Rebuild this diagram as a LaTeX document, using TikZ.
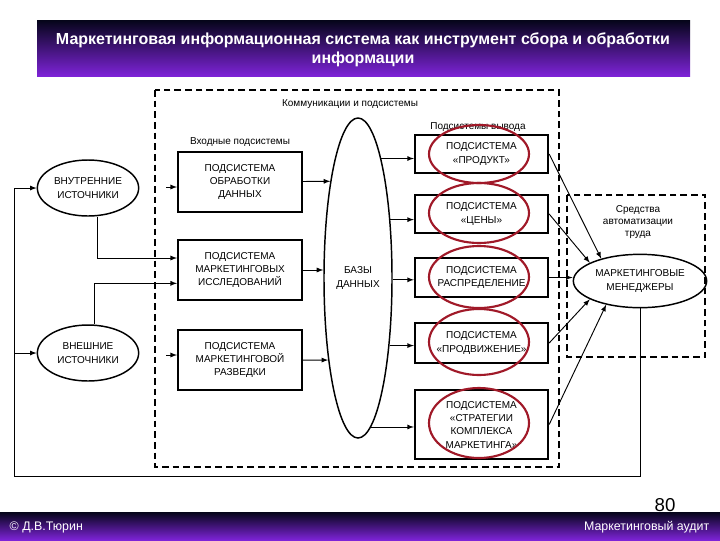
\documentclass[tikz,border=0pt]{standalone}
\usepackage{fontspec}
\setmainfont{Liberation Sans}
\usetikzlibrary{shapes.geometric}
\definecolor{ringred}{RGB}{160,25,40}
\definecolor{bartop}{RGB}{5,5,25}
\definecolor{barmid}{RGB}{25,15,210}
\definecolor{barbot}{RGB}{125,35,215}
\tikzset{
  caps/.style={font=\fontsize{7.5}{10}\selectfont,align=center},
  box/.style={caps,draw,line width=1.5pt,inner sep=0pt},
  oval/.style={caps,draw,ellipse,line width=1.1pt,inner sep=0pt},
  note/.style={font=\fontsize{7.5}{9}\selectfont,align=center},
  ring/.style={draw=ringred,line width=1.6pt},
  dashbox/.style={line width=1.4pt,dash pattern=on 5pt off 3pt},
  link/.style={->,line width=0.7pt}
}
\begin{document}
\begin{tikzpicture}[x=0.75pt,y=-0.75pt,>=latex]
\useasboundingbox (0,0) rectangle (720,540);
\shade[top color=bartop,middle color=barmid,bottom color=barbot] (37,20) rectangle (690,76);
\shade[top color=bartop,middle color=barmid,bottom color=barbot] (0,512) rectangle (720,540);
\node[font=\bfseries\fontsize{12}{14.5}\selectfont,text=white,align=center] (title) at (363,50) {Маркетинговая информационная система как инструмент сбора и обработки\\информации};
\node[font=\fontsize{9.3}{11}\selectfont,text=white,anchor=west] (copy) at (5,527) {© Д.В.Тюрин};
\node[font=\fontsize{9.3}{11}\selectfont,text=white,anchor=east] (aud) at (714,527) {Маркетинговый аудит};
\node[font=\fontsize{14}{16}\selectfont] (page) at (665,505) {80};

\draw[dashbox] (155,90) rectangle (559,467);
\draw[dashbox] (567,195) rectangle (705,357);
\node[note] (lcom) at (350,104) {Коммуникации и подсистемы};
\node[note] (lin) at (240,142) {Входные подсистемы};
\node[note] (lout) at (478,127) {Подсистемы вывода};
\node[note] (lauto) at (638,222) {Средства\\автоматизации\\труда};

\node[oval,minimum width=76pt,minimum height=42pt] (src1) at (88,188) {ВНУТРЕННИЕ\\ИСТОЧНИКИ};
\node[oval,minimum width=76pt,minimum height=42pt] (src2) at (88,353) {ВНЕШНИЕ\\ИСТОЧНИКИ};
\node[box,minimum width=93pt,minimum height=45pt] (in1) at (240,182) {ПОДСИСТЕМА\\ОБРАБОТКИ\\ДАННЫХ};
\node[box,minimum width=93pt,minimum height=45pt] (in2) at (240,270) {ПОДСИСТЕМА\\МАРКЕТИНГОВЫХ\\ИССЛЕДОВАНИЙ};
\node[box,minimum width=93pt,minimum height=45pt] (in3) at (240,360) {ПОДСИСТЕМА\\МАРКЕТИНГОВОЙ\\РАЗВЕДКИ};
\node[oval,minimum width=51pt,minimum height=240pt] (db) at (358,278) {БАЗЫ\\ДАННЫХ};
\node[box,minimum width=100pt,minimum height=28.5pt] (out1) at (481.5,154) {ПОДСИСТЕМА\\«ПРОДУКТ»};
\node[box,minimum width=100pt,minimum height=28.5pt] (out2) at (481.5,214) {ПОДСИСТЕМА\\«ЦЕНЫ»};
\node[box,minimum width=100pt,minimum height=29pt] (out3) at (481.5,277.5) {ПОДСИСТЕМА\\РАСПРЕДЕЛЕНИЕ};
\node[box,minimum width=100pt,minimum height=30pt] (out4) at (481.5,343) {ПОДСИСТЕМА\\«ПРОДВИЖЕНИЕ»};
\node[box,minimum width=100pt,minimum height=52pt] (out5) at (481.5,424.5) {ПОДСИСТЕМА\\«СТРАТЕГИИ\\КОМПЛЕКСА\\МАРКЕТИНГА»};
\node[oval,minimum width=100pt,minimum height=40pt] (mgr) at (640,281) {МАРКЕТИНГОВЫЕ\\МЕНЕДЖЕРЫ};

\foreach \y/\ry in {154/29,213/30,277/31,342/33,423/35}
  \draw[ring] (479,\y) ellipse [x radius=50,y radius=\ry];

\coordinate (c1) at (640,476);
\coordinate (c2) at (14,476);
\coordinate (c3) at (14,353);
\coordinate (s1) at (166,187);
\coordinate (s2) at (166,355);
\draw[link] (mgr) -- (c1) -- (c2) |- (src1);
\draw[link] (c3) -- (src2);
\draw[link] (s1) -- (s1 -| in1.west);
\draw[link] (s2) -- (s2 -| in3.west);
\draw[link] ([xshift=7pt]src1.south) |- ([yshift=9pt]in2.west);
\draw[link] ([xshift=5pt]src2.north) |- ([yshift=-10pt]in2.west);
\draw[link] (in1) -- (db.106);
\draw[link] (in2) -- (in2 -| db.west);
\draw[link] (in3) -- (db.250);
\draw[link] (db.79) -- (db.79 -| out1.west);
\draw[link] (db.61) -- (db.61 -| out2.west);
\draw[link] (db.357) -- (db.357 -| out3.west);
\draw[link] (db.295) -- (db.295 -| out4.west);
\draw[link] (db.275) -- (db.275 -| out5.west);
\draw[link] (out1.east) -- (mgr.150);
\draw[link] (out2.east) -- (mgr.160);
\draw[link] (out3) -- (out3 -| mgr.west);
\draw[link] (out4.east) -- (mgr.200);
\draw[link] (out5.east) -- (mgr.215);
\end{tikzpicture}
\end{document}
